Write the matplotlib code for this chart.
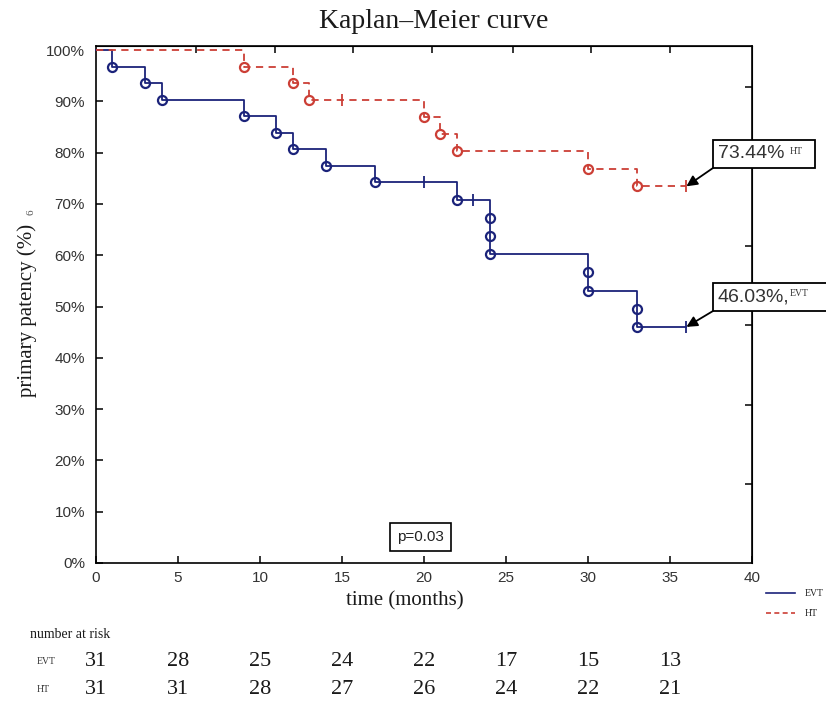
import numpy as np
import matplotlib
matplotlib.use('Agg')
import matplotlib.pyplot as plt
import matplotlib.transforms as mtransforms
from matplotlib.patches import Rectangle
from matplotlib.lines import Line2D

# ---------------------------------------------------------------------------
# DATA
# ---------------------------------------------------------------------------
evt_times = [1, 3, 4, 9, 11, 12, 14, 17, 22, 24, 24, 24, 30, 30, 33, 33]
evt_surv = [96.77, 93.55, 90.32, 87.10, 83.87, 80.65, 77.42, 74.19,
            70.82, 67.2, 63.7, 60.2, 56.7, 53.1, 49.6, 46.03]
evt_censor = [20, 23, 36]

ht_times = [9, 12, 13, 20, 21, 22, 30, 33]
ht_surv = [96.77, 93.55, 90.32, 86.98, 83.63, 80.29, 76.75, 73.44]
ht_censor = [15, 36]

followup_end = 36

risk_times = [0, 5, 10, 15, 20, 25, 30, 35]
risk_evt = [31, 28, 25, 24, 22, 17, 15, 13]
risk_ht = [31, 31, 28, 27, 26, 24, 22, 21]

p_value = 0.03

EVT_COLOR = '#1b237a'
HT_COLOR = '#cc3f36'
SERIF = 'Liberation Serif'
SANS = 'Liberation Sans'
W, H = 826, 707


def surv_at(times, surv, t):
    level = 100.0
    for ti, si in zip(times, surv):
        if ti <= t:
            level = si
    return level


def fx(px):
    return px / W


def fy(py):
    return 1 - py / H


fig = plt.figure(figsize=(W / 100, H / 100), dpi=100)
ax = fig.add_axes([fx(96), fy(563), fx(752) - fx(96), fy(46) - fy(563)])

# step curves
for times, surv, cens, color, ls in [
        (evt_times, evt_surv, evt_censor, EVT_COLOR, '-'),
        (ht_times, ht_surv, ht_censor, HT_COLOR, (0, (4, 3)))]:
    xs = [0] + times + [followup_end]
    ys = [100] + surv + [surv[-1]]
    ax.plot(xs, ys, drawstyle='steps-post', color=color, lw=1.3,
            linestyle=ls, clip_on=False, zorder=3)
    ax.plot(times, surv, 'o', mfc='none', mec=color, mew=1.6, ms=6.5,
            clip_on=False, zorder=4)
    ax.plot(cens, [surv_at(times, surv, c) for c in cens], '|', color=color,
            ms=9, mew=1.3, clip_on=False, zorder=4)

ax.set_xlim(0, 40)
ax.set_ylim(0, 100.8)
ax.set_xticks(np.arange(0, 41, 5))
ax.set_yticks(np.arange(0, 101, 10))
ax.set_yticklabels([f'{v}%' for v in range(0, 101, 10)])
ax.tick_params(direction='in', length=5, width=1.1, colors='black',
               labelcolor='#333333', labelsize=11)
ax.tick_params(axis='x', pad=6)
ax.tick_params(axis='y', pad=8)
for lab in ax.get_xticklabels() + ax.get_yticklabels():
    lab.set_fontfamily(SANS)
for sp in ax.spines.values():
    sp.set_linewidth(1.2)

# odd extra ticks on top / right frame
top_ticks = [6.1, 10.9, 15.7, 20.5, 25.4, 30.2, 35.0]
right_ticks = [15.5, 30.9, 46.4, 61.9, 77.4, 92.8]
sec_x = ax.secondary_xaxis('top')
sec_x.set_xticks(top_ticks, labels=[])
sec_x.tick_params(direction='in', length=5, width=1.1)
sec_y = ax.secondary_yaxis('right')
sec_y.set_yticks(right_ticks, labels=[])
sec_y.tick_params(direction='in', length=5, width=1.1)

# p-value box
ax.text(19.8, 5.0, f'p={p_value:.2f}', ha='center', va='center', fontsize=11,
        family=SANS, color='#222222',
        bbox=dict(boxstyle='square,pad=0.45', fc='white', ec='black', lw=1.2))

# titles / labels
fig.text(fx(434), fy(22), 'Kaplan\u2013Meier curve', ha='center', va='center',
         fontsize=20, family=SERIF, color='#1a1a1a')
fig.text(fx(27), fy(310), 'primary patency (%)', ha='center', va='center',
         rotation=90, fontsize=15, family=SERIF, color='#1a1a1a')
fig.text(fx(31), fy(212), '6', ha='center', va='center', rotation=90,
         fontsize=8, family=SERIF, color='#555555')
fig.text(fx(405), fy(601), 'time (months)', ha='center', va='center',
         fontsize=15, family=SERIF, color='#1a1a1a')

# end-value call-outs
for val, label, top, right, arrow_y in [
        (ht_surv[-1], 'HT', 140, 815, 168),
        (evt_surv[-1], 'EVT', 283, 850, 311)]:
    fig.add_artist(Rectangle((fx(713), fy(arrow_y)), fx(right) - fx(713),
                             fy(top) - fy(arrow_y), transform=fig.transFigure,
                             fc='white', ec='black', lw=1.3, zorder=5))
    sep = ',' if label == 'EVT' else ''
    fig.text(fx(718), fy((top + arrow_y) / 2), f'{val:.2f}%{sep}', ha='left',
             va='center', fontsize=14, family=SANS, color='#333333', zorder=6)
    fig.text(fx(790), fy((top + arrow_y) / 2 - 3), label, ha='left',
             va='center', fontsize=7, family=SERIF, color='#333333', zorder=6)
    ax.annotate('', xy=(followup_end, val), xycoords='data',
                xytext=(fx(713), fy(arrow_y)), textcoords='figure fraction',
                arrowprops=dict(arrowstyle='-|>', color='black', lw=1.3,
                                mutation_scale=16, shrinkA=0, shrinkB=0),
                zorder=6, annotation_clip=False)

# little legend at bottom right
for py, color, ls, label in [(593, EVT_COLOR, '-', 'EVT'),
                             (613, HT_COLOR, (0, (3, 2)), 'HT')]:
    fig.add_artist(Line2D([fx(766), fx(795)], [fy(py), fy(py)], color=color,
                          lw=1.2, linestyle=ls, transform=fig.transFigure))
    fig.text(fx(805), fy(py), label, ha='left', va='center', fontsize=7,
             family=SERIF, color='#222222')

# number at risk table
trans = mtransforms.blended_transform_factory(ax.transData, fig.transFigure)
fig.text(fx(30), fy(634), 'number at risk', ha='left', va='center',
         fontsize=10, family=SERIF, color='#1a1a1a')
for py, label, counts in [(661, 'EVT', risk_evt), (690, 'HT', risk_ht)]:
    fig.text(fx(37), fy(py), label, ha='left', va='center', fontsize=7,
             family=SERIF, color='#333333')
    for t, n in zip(risk_times, counts):
        ax.text(t, fy(py), str(n), transform=trans, ha='center', va='center',
                fontsize=16, family=SERIF, color='#1a1a1a', clip_on=False)

fig.savefig('out.png', dpi=100)
